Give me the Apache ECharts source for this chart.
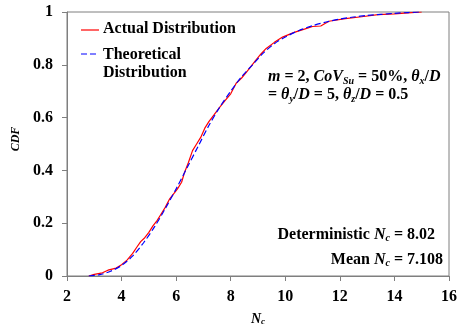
<!DOCTYPE html>
<html>
<head>
<meta charset="utf-8">
<script src="https://cdn.jsdelivr.net/npm/echarts@6/dist/echarts.min.js"></script>
<style>
  html, body { margin: 0; padding: 0; background: #fff; }
  #chart { width: 460px; height: 331px; }
</style>
</head>
<body>
<div id="chart"></div>
<script>
// Empirical CDF of the simulated bearing capacity factor N_c
const actualDistribution = [
  [2.8, 0], [3.0, 0.006], [3.3, 0.012], [3.5, 0.022], [3.8, 0.03], [4.0, 0.043],
  [4.2, 0.06], [4.4, 0.085], [4.55, 0.108], [4.7, 0.13], [4.85, 0.145], [5.0, 0.165],
  [5.15, 0.19], [5.3, 0.21], [5.45, 0.235], [5.6, 0.26], [5.75, 0.29], [5.9, 0.31],
  [6.05, 0.33], [6.2, 0.355], [6.3, 0.39], [6.45, 0.43], [6.6, 0.475], [6.75, 0.5],
  [6.9, 0.525], [7.05, 0.56], [7.2, 0.585], [7.4, 0.612], [7.6, 0.64], [7.8, 0.665],
  [8.0, 0.69], [8.2, 0.73], [8.4, 0.75], [8.6, 0.775], [8.9, 0.815], [9.1, 0.84],
  [9.3, 0.862], [9.6, 0.885], [9.9, 0.905], [10.3, 0.922], [10.7, 0.935], [11.0, 0.945],
  [11.3, 0.947], [11.6, 0.965], [12.2, 0.975], [12.8, 0.982], [13.4, 0.99], [14.0, 0.993],
  [14.5, 0.997], [15.0, 1.0]
];

// Fitted theoretical CDF
const theoreticalDistribution = [
  [2.8, 0], [3.2, 0.005], [3.6, 0.018], [4.0, 0.04], [4.4, 0.075], [4.8, 0.125],
  [5.2, 0.185], [5.6, 0.255], [6.0, 0.33], [6.4, 0.41], [6.8, 0.49], [7.2, 0.57],
  [7.6, 0.64], [8.0, 0.7], [8.4, 0.755], [8.8, 0.8], [9.2, 0.845], [9.6, 0.88],
  [10.0, 0.905], [10.5, 0.93], [11.0, 0.948], [11.5, 0.962], [12.0, 0.973], [12.5, 0.981],
  [13.0, 0.987], [13.5, 0.991], [14.0, 0.995], [14.5, 0.998], [14.9, 1.0]
];

const seriesNames = ['Actual Distribution', 'Theoretical\nDistribution'];
const xTicks = { min: 2, max: 16, interval: 2 };
const yTicks = { min: 0, max: 1, interval: 0.2 };

const serif = 'Liberation Serif';
const axisGray = '#7f7f7f';
const red = '#ff0000';
const blue = '#0000ff';

const boldText = { fontFamily: serif, fontWeight: 'bold', fontSize: 16, fill: '#000' };
const it = { fontFamily: serif, fontWeight: 'bold', fontStyle: 'italic', fontSize: 16, color: '#000' };
const sub = { fontFamily: serif, fontWeight: 'bold', fontStyle: 'italic', fontSize: 10, color: '#000', verticalAlign: 'bottom', lineHeight: 10 };
const itName = { fontFamily: serif, fontWeight: 'bold', fontStyle: 'italic', fontSize: 14, color: '#000' };
const subName = { fontFamily: serif, fontWeight: 'bold', fontStyle: 'italic', fontSize: 9, color: '#000', verticalAlign: 'bottom', lineHeight: 9 };

const chart = echarts.init(document.getElementById('chart'), null, { renderer: 'canvas' });
chart.setOption({
  animation: false,
  backgroundColor: '#fff',
  grid: { left: 67, right: 8, top: 12, bottom: 55, show: true, borderColor: axisGray, borderWidth: 1 },
  xAxis: {
    type: 'value', min: xTicks.min, max: xTicks.max, interval: xTicks.interval,
    name: '{i|N}{s|c}', nameLocation: 'middle', nameGap: 36,
    nameTextStyle: { color: '#000', rich: { i: itName, s: subName } },
    axisLine: { lineStyle: { color: axisGray } },
    axisTick: { show: true, length: 5, lineStyle: { color: axisGray } },
    axisLabel: { fontFamily: serif, fontWeight: 'bold', fontSize: 16, color: '#000', margin: 13 },
    splitLine: { show: false }
  },
  yAxis: {
    type: 'value', min: yTicks.min, max: yTicks.max, interval: yTicks.interval,
    name: 'CDF', nameLocation: 'middle', nameGap: 45, nameRotate: 90,
    nameTextStyle: Object.assign({}, itName, { fontSize: 12, padding: [0, 0, 0, 10] }),
    axisLine: { show: true, lineStyle: { color: axisGray } },
    axisTick: { show: true, length: 5, lineStyle: { color: axisGray } },
    axisLabel: { fontFamily: serif, fontWeight: 'bold', fontSize: 16, color: '#000', margin: 14 },
    splitLine: { show: false }
  },
  series: [
    {
      name: seriesNames[0], type: 'line', data: actualDistribution,
      showSymbol: false, symbol: 'none', color: red,
      lineStyle: { color: red, width: 1.2 }
    },
    {
      name: seriesNames[1], type: 'line', data: theoreticalDistribution,
      showSymbol: false, symbol: 'none', color: blue, smooth: 0.3,
      lineStyle: { color: blue, width: 1.2, type: [6, 3] }
    }
  ],
  graphic: [
    // legend key
    { type: 'line', shape: { x1: 81, y1: 30, x2: 99, y2: 30 }, style: { stroke: red, lineWidth: 1.2 } },
    { type: 'text', left: 103, top: 21, style: Object.assign({ text: seriesNames[0] }, boldText) },
    { type: 'line', shape: { x1: 81, y1: 54, x2: 99, y2: 54 }, style: { stroke: blue, lineWidth: 1.2, lineDash: [6, 3] } },
    { type: 'text', left: 103, top: 46, style: Object.assign({ text: seriesNames[1], lineHeight: 18 }, boldText) },
    // case parameters
    {
      type: 'text', left: 268, top: 68,
      style: Object.assign({
        text: '{i|m} = 2, {i|CoV}{s|Su} = 50%, {i|θ}{s|x}/{i|D}\n= {i|θ}{s|y}/{i|D} = 5, {i|θ}{s|z}/{i|D} = 0.5',
        lineHeight: 18, rich: { i: it, s: sub }
      }, boldText)
    },
    {
      type: 'text', right: 25, top: 227,
      style: Object.assign({
        text: 'Deterministic {i|N}{s|c} = 8.02', align: 'right', rich: { i: it, s: sub }
      }, boldText)
    },
    {
      type: 'text', right: 17, top: 252,
      style: Object.assign({
        text: 'Mean {i|N}{s|c} = 7.108', align: 'right', rich: { i: it, s: sub }
      }, boldText)
    }
  ]
});
</script>
</body>
</html>
